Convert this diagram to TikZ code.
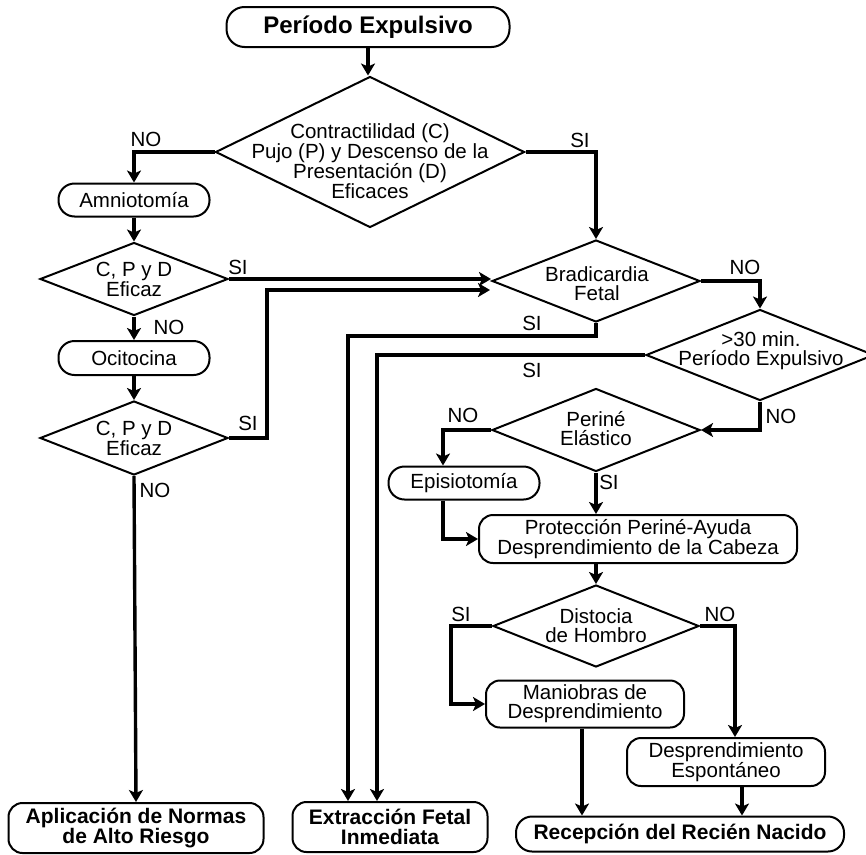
\documentclass[tikz,border=0pt]{standalone}
\usepackage{fontspec}
\setmainfont{Liberation Sans}
\usetikzlibrary{shapes.geometric,arrows.meta}
\newcommand\fsN{\fontsize{20.5}{19}\selectfont}
\newcommand\fsB{\fontsize{21}{20.5}\selectfont\bfseries}
\newcommand\fsT{\fontsize{24}{24}\selectfont\bfseries}
\begin{document}
\begin{tikzpicture}[x=1pt,y=-1pt,
  rbox/.style={draw, line width=2pt, rounded corners=14pt, inner sep=0pt, align=center, font=\fsN},
  dia/.style={diamond, draw, line width=2pt, inner sep=0pt},
  dtext/.style={inner sep=0pt, align=center, font=\fsN},
  lbl/.style={inner sep=0pt, font=\fsN},
  conn/.style={line width=3.8pt, -{Stealth[length=12pt,width=14pt,inset=3pt]}},
  connt/.style={line width=3.4pt, -{Stealth[length=12pt,width=14pt,inset=3pt]}}
]
\useasboundingbox (0,0) rectangle (866,854);

% boxes
\node[rbox, font=\fsT, rounded corners=18pt, minimum width=283pt, minimum height=40pt] (title) at (368,27) {Período Expulsivo};
\node[rbox, rounded corners=16pt, minimum width=151pt, minimum height=33pt] (amn) at (134,200) {Amniotomía};
\node[rbox, rounded corners=16pt, minimum width=151pt, minimum height=34pt] (ocit) at (134,358) {Ocitocina};
\node[rbox, rounded corners=16pt, minimum width=151pt, minimum height=33pt] (epi) at (464,483) {Episiotomía};
\node[rbox, minimum width=318pt, minimum height=48pt] (prot) at (638,539) {Protección Periné-Ayuda\\Desprendimiento de la Cabeza};
\node[rbox, minimum width=198pt, minimum height=47pt] (man) at (585,704) {Maniobras de\\Desprendimiento};
\node[rbox, minimum width=198pt, minimum height=48pt] (desp) at (726,762) {Desprendimiento\\Espontáneo};
\node[rbox, font=\fsB, rounded corners=16pt, minimum width=328pt, minimum height=35pt] (rec) at (680,834) {Recepción del Recién Nacido};
\node[rbox, font=\fsB, minimum width=255pt, minimum height=50pt] (apl) at (136,828) {Aplicación de Normas\\de Alto Riesgo};
\node[rbox, font=\fsB, minimum width=195pt, minimum height=50pt] (ext) at (390,827) {Extracción Fetal\\Inmediata};

% diamonds
\node[dia, minimum width=309pt, minimum height=151pt] (d0) at (370,152) {};
\node[dtext] (d0t) at (370,161) {Contractilidad (C)\\Pujo (P) y Descenso de la\\Presentación (D)\\Eficaces};
\node[dia, minimum width=188pt, minimum height=73pt] (d1) at (134,279) {};
\node[dtext] (d1t) at (134,279) {C, P y D\\Eficaz};
\node[dia, minimum width=188pt, minimum height=74pt] (d2) at (134,438) {};
\node[dtext] (d2t) at (134,438) {C, P y D\\Eficaz};
\node[dia, minimum width=208pt, minimum height=82pt] (brad) at (596,281) {};
\node[dtext] (bradt) at (597,284) {Bradicardia\\Fetal};
\node[dia, minimum width=228pt, minimum height=91pt] (d30) at (760,355) {};
\node[dtext] (d30t) at (761,351) {>30 min.\\Período Expulsivo};
\node[dia, minimum width=208pt, minimum height=83pt] (per) at (596,430) {};
\node[dtext] (pert) at (596,429) {Periné\\Elástico};
\node[dia, minimum width=206pt, minimum height=82pt] (dist) at (596,626) {};
\node[dtext] (distt) at (596,626) {Distocia\\de Hombro};

% junction coordinates
\coordinate (j1) at (267,290);
\coordinate (bradin) at (490,290);
\coordinate (j2) at (348,336);
\coordinate (j3) at (377,355);
\coordinate (j4) at (451,626);

% connectors
\draw[conn] (title.south) -- (title.south |- d0.north);
\draw[conn] (d0.west) -| (amn.north);
\draw[conn] (d0.east) -| (brad.north);
\draw[conn] (amn.south) -- (d1.north);
\draw[conn] (d1.east) -- (d1.east -| brad.west);
\draw[conn] (d1.south) -- (ocit.north);
\draw[conn] (ocit.south) -- (d2.north);
\draw[conn] (d2.east) -| (j1) -- (bradin);
\draw[connt] (d2.south) -- (apl.north);
\draw[conn] (brad.east) -| (d30.north);
\draw[connt] (brad.south) |- (j2) -- (j2 |- ext.north);
\draw[connt] (d30.west) -- (j3) -- (j3 |- ext.north);
\draw[conn] (d30.south) |- (per.east);
\draw[conn] (per.west) -| ([xshift=-21pt]epi.north);
\draw[conn] ([xshift=-21pt]epi.south) |- (prot.west);
\draw[conn] (per.south) -- (per.south |- prot.north);
\draw[conn] (prot.south -| dist.north) -- (dist.north);
\draw[conn] (dist.west) -- (j4) |- (man.west);
\draw[conn] (dist.east) -| ([xshift=9pt]desp.north);
\draw[connt] ([xshift=-3pt]man.south) -- ([xshift=-3pt]man.south |- rec.north);
\draw[connt] ([xshift=16pt]desp.south) -- ([xshift=16pt]desp.south |- rec.north);

% labels
\node[lbl] (l1) at (146,139) {NO};
\node[lbl] (l2) at (580,140) {SI};
\node[lbl] (l3) at (238,267) {SI};
\node[lbl] (l4) at (169,327) {NO};
\node[lbl] (l5) at (248,423) {SI};
\node[lbl] (l6) at (155,490) {NO};
\node[lbl] (l7) at (745,267) {NO};
\node[lbl] (l8) at (532,323) {SI};
\node[lbl] (l9) at (532,370) {SI};
\node[lbl] (l10) at (781,416) {NO};
\node[lbl] (l11) at (463,415) {NO};
\node[lbl] (l12) at (609,482) {SI};
\node[lbl] (l13) at (461,614) {SI};
\node[lbl] (l14) at (720,614) {NO};
\end{tikzpicture}
\end{document}
